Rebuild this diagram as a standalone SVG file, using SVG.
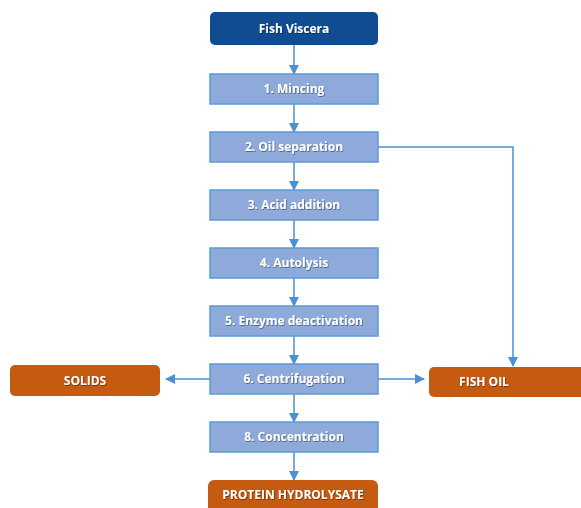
<svg xmlns="http://www.w3.org/2000/svg" width="581" height="508" viewBox="0 0 581 508">
<defs>
<marker id="ah" viewBox="0 0 10 10" refX="9" refY="5" markerWidth="10" markerHeight="10" markerUnits="userSpaceOnUse" orient="auto">
<path d="M0,0 L10,5 L0,10 z" fill="#4a90d6"/>
</marker>
<filter id="sh" x="-10%" y="-30%" width="120%" height="160%">
<feDropShadow dx="0.7" dy="0.9" stdDeviation="0.6" flood-color="#000" flood-opacity="0.45"/>
</filter>
</defs>
<style>
.step{fill:#8eaadb;stroke:#5b9bd5;stroke-width:1.5}
.top{fill:#0f4c92}
.out{fill:#c55a11}
.t{font-family:"Open Sans","Liberation Sans",sans-serif;font-weight:bold;font-size:12px;fill:#fff;text-anchor:middle;filter:url(#sh)}
.c{fill:none;stroke:#4a90d6;stroke-width:1.5;marker-end:url(#ah)}
</style>
<g id="connectors">
<path class="c" d="M294,45 V74"/>
<path class="c" d="M294,104 V132"/>
<path class="c" d="M294,162 V190"/>
<path class="c" d="M294,220 V248"/>
<path class="c" d="M294,278 V306"/>
<path class="c" d="M294,336 V364"/>
<path class="c" d="M294,394 V422"/>
<path class="c" d="M294,452 V480"/>
<path class="c" d="M378,147 H513 V366"/>
<path class="c" d="M210,379 H166"/>
<path class="c" d="M378,379 H424"/>
</g>
<g id="fish-viscera"><rect class="top" x="210" y="12" width="168" height="33" rx="5"/><text class="t" x="294" y="33">Fish Viscera</text></g>
<g id="mincing"><rect class="step" x="210" y="74" width="168" height="30"/><text class="t" x="294" y="93">1. Mincing</text></g>
<g id="oil-separation"><rect class="step" x="210" y="132" width="168" height="30"/><text class="t" x="294" y="151">2. Oil separation</text></g>
<g id="acid-addition"><rect class="step" x="210" y="190" width="168" height="30"/><text class="t" x="294" y="209">3. Acid addition</text></g>
<g id="autolysis"><rect class="step" x="210" y="248" width="168" height="30"/><text class="t" x="294" y="267">4. Autolysis</text></g>
<g id="enzyme-deactivation"><rect class="step" x="210" y="306" width="168" height="30"/><text class="t" x="294" y="325">5. Enzyme deactivation</text></g>
<g id="centrifugation"><rect class="step" x="210" y="364" width="168" height="30"/><text class="t" x="294" y="383">6. Centrifugation</text></g>
<g id="concentration"><rect class="step" x="210" y="422" width="168" height="30"/><text class="t" x="294" y="441">8. Concentration</text></g>
<g id="solids"><rect class="out" x="10" y="365" width="150" height="31" rx="5"/><text class="t" x="85" y="385">SOLIDS</text></g>
<g id="fish-oil"><rect class="out" x="429" y="367" width="160" height="30" rx="5"/><text class="t" x="484" y="386">FISH OIL</text></g>
<g id="protein-hydrolysate"><rect class="out" x="208" y="480" width="170" height="36" rx="6"/><text class="t" x="293" y="499">PROTEIN HYDROLYSATE</text></g>
</svg>
